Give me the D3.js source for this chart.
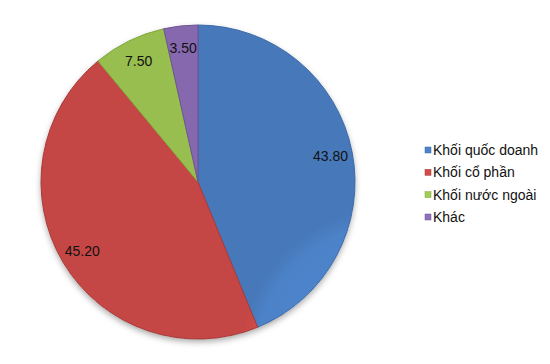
<!DOCTYPE html>
<html><head><meta charset="utf-8">
<script src="https://cdn.jsdelivr.net/npm/d3@7"></script>
<style>body{margin:0;background:#fff}svg{display:block}</style>
</head><body>
<script>
const categories = ["Khối quốc doanh", "Khối cổ phần", "Khối nước ngoài", "Khác"];
const values = [43.80, 45.20, 7.50, 3.50];
const labels = ["43.80", "45.20", "7.50", "3.50"];
const colors = ["#4c82c8", "#d24c4a", "#a2cc54", "#9070bc"];
const edgeColors = ["#3c6aa8", "#a83a38", "#80a83c", "#6e5394"];

const W = 550, H = 364, cx = 198, cy = 182, R = 157;
const svg = d3.select("body").append("svg").attr("width", W).attr("height", H);
const defs = svg.append("defs");
const f = defs.append("filter").attr("id","sh").attr("x","-20%").attr("y","-20%").attr("width","140%").attr("height","140%");
f.append("feDropShadow").attr("dx",0).attr("dy",3).attr("stdDeviation",3).attr("flood-color","#000").attr("flood-opacity",0.35);

colors.forEach((c,i)=>{
  const g = defs.append("radialGradient").attr("id","g"+i)
    .attr("gradientUnits","userSpaceOnUse").attr("cx",cx).attr("cy",cy).attr("r",R);
  g.append("stop").attr("offset","0%").attr("stop-color", d3.color(c).brighter(0.1));
  g.append("stop").attr("offset","90%").attr("stop-color", c);
  g.append("stop").attr("offset","100%").attr("stop-color", d3.color(c).darker(0.2));
});

const pie = d3.pie().sort(null).value(d=>d)(values);
const arc = d3.arc().innerRadius(0).outerRadius(R);
const labelArc = d3.arc().innerRadius(135).outerRadius(135);

const g = svg.append("g").attr("transform",`translate(${cx},${cy})`);
g.append("circle").attr("r",R).attr("fill","#fff").attr("filter","url(#sh)");
g.selectAll("path.s").data(pie).enter().append("path").attr("class","s")
  .attr("d",arc).attr("fill",(d,i)=>`url(#g${i})`)
  .attr("stroke",(d,i)=>edgeColors[i]).attr("stroke-width",1);

g.selectAll("text.l").data(pie).enter().append("text").attr("class","l")
  .attr("transform",d=>`translate(${labelArc.centroid(d)})`)
  .attr("text-anchor","middle").attr("dy","0.35em")
  .attr("font-family","Liberation Sans, Arial, sans-serif").attr("font-size",14)
  .attr("fill","#111").text((d,i)=>labels[i]);

const ly = d3.scalePoint().domain(categories).range([150,217]);
const lg = svg.append("g");
categories.forEach((c,i)=>{
  lg.append("rect").attr("x",425).attr("y",ly(c)-3).attr("width",6).attr("height",6)
    .attr("fill",colors[i]).attr("stroke",edgeColors[i]).attr("stroke-width",0.5);
  lg.append("text").attr("x",433).attr("y",ly(c)).attr("dy","0.35em")
    .attr("font-family","Liberation Sans, Arial, sans-serif").attr("font-size",14)
    .attr("fill","#111").text(c);
});
</script>
</body></html>
